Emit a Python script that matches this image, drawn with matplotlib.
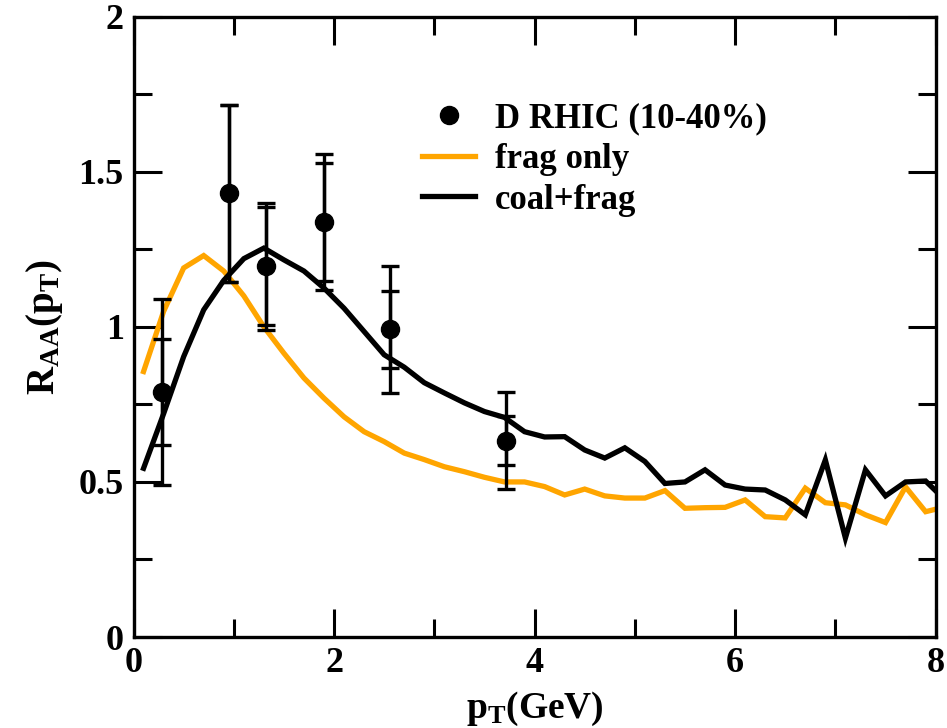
import numpy as np
import matplotlib
matplotlib.use("Agg")
import matplotlib.pyplot as plt
from matplotlib.lines import Line2D

# ---- data ----
pt_grid = [0.1, 0.3, 0.5, 0.7, 0.9, 1.1, 1.3, 1.5, 1.7, 1.9,
           2.1, 2.3, 2.5, 2.7, 2.9, 3.1, 3.3, 3.5, 3.7, 3.9,
           4.1, 4.3, 4.5, 4.7, 4.9, 5.1, 5.3, 5.5, 5.7, 5.9,
           6.1, 6.3, 6.5, 6.7, 6.9, 7.1, 7.3, 7.5, 7.7, 7.9, 8.1]
frag_only = [0.856, 1.05, 1.19, 1.23, 1.18, 1.10, 1.00, 0.915, 0.835, 0.77,
             0.71, 0.662, 0.63, 0.593, 0.572, 0.549, 0.533, 0.515, 0.50, 0.50,
             0.485, 0.458, 0.477, 0.455, 0.448, 0.448, 0.472, 0.415, 0.417, 0.418,
             0.442, 0.388, 0.384, 0.48, 0.433, 0.426, 0.394, 0.369, 0.484, 0.404, 0.42]
coal_frag = [0.544, 0.72, 0.904, 1.055, 1.15, 1.22, 1.254, 1.216, 1.18, 1.125,
             1.06, 0.985, 0.91, 0.87, 0.82, 0.787, 0.755, 0.727, 0.708, 0.662,
             0.645, 0.646, 0.603, 0.577, 0.61, 0.566, 0.495, 0.50, 0.539, 0.49,
             0.477, 0.474, 0.442, 0.394, 0.571, 0.319, 0.539, 0.455, 0.50, 0.503, 0.44]

data_pt = [0.28, 0.95, 1.32, 1.90, 2.56, 3.71]
data_raa = [0.79, 1.431, 1.195, 1.338, 0.992, 0.633]
err_stat = [0.17, 0.285, 0.19, 0.19, 0.125, 0.08]
err_syst = [0.30, 0.285, 0.205, 0.218, 0.205, 0.156]

x_ticks = [0, 2, 4, 6, 8]
y_ticks = [0, 0.5, 1, 1.5, 2]
y_tick_labels = ["0", "0.5", "1", "1.5", "2"]

# ---- style ----
plt.rcParams['font.family'] = ['Liberation Serif', 'DejaVu Serif']
plt.rcParams['font.weight'] = 'bold'
plt.rcParams['mathtext.fontset'] = 'custom'
plt.rcParams['mathtext.rm'] = 'Liberation Serif:bold'
plt.rcParams['mathtext.it'] = 'Liberation Serif:bold'
plt.rcParams['mathtext.bf'] = 'Liberation Serif:bold'

fig = plt.figure(figsize=(9.47, 7.28), dpi=100)
ax = fig.add_axes([0.141, 0.125, 0.847, 0.852])

orange = '#FFA500'
ax.plot(pt_grid, frag_only, color=orange, lw=3.8, solid_joinstyle='miter', clip_on=True)
ax.plot(pt_grid, coal_frag, color='black', lw=3.8, solid_joinstyle='miter', clip_on=True)

ax.errorbar(data_pt, data_raa, yerr=err_syst, fmt='none', ecolor='black',
            elinewidth=2.4, capsize=6.5, capthick=2.4, zorder=4)
ax.errorbar(data_pt, data_raa, yerr=err_stat, fmt='o', color='black',
            ms=13, elinewidth=2.4, capsize=6.5, capthick=2.4, zorder=5)

ax.set_xlim(0, 8)
ax.set_ylim(0, 2)
ax.set_xticks(x_ticks)
ax.set_xticklabels([str(t) for t in x_ticks])
ax.set_yticks(y_ticks)
ax.set_yticklabels(y_tick_labels)
ax.set_xticks([1, 3, 5, 7], minor=True)
ax.set_yticks([0.25, 0.75, 1.25, 1.75], minor=True)
ax.tick_params(which='both', direction='in', top=True, right=True, width=2.2,
               labelsize=26)
ax.tick_params(which='major', length=20, pad=7)
ax.tick_params(which='minor', length=13)
for s in ax.spines.values():
    s.set_linewidth(2.4)

ax.set_xlabel(r'$\mathrm{p_T}$(GeV)', fontsize=27, fontweight='bold', labelpad=7)
ax.set_ylabel(r'$\mathrm{R_{AA}(p_T)}$', fontsize=28, fontweight='bold', labelpad=10)

handles = [Line2D([], [], marker='o', ls='none', color='black', ms=13),
           Line2D([], [], color=orange, lw=3.8),
           Line2D([], [], color='black', lw=3.8)]
labels = ['D RHIC (10-40%)', 'frag only', 'coal+frag']
ax.legend(handles, labels, loc='upper left', bbox_to_anchor=(0.36, 0.862),
          frameon=False, handlelength=1.53, handletextpad=0.55,
          labelspacing=0.22, borderpad=0, borderaxespad=0,
          prop={'family': 'Liberation Serif', 'weight': 'bold', 'size': 25})

fig.savefig('out.png', dpi=100)
